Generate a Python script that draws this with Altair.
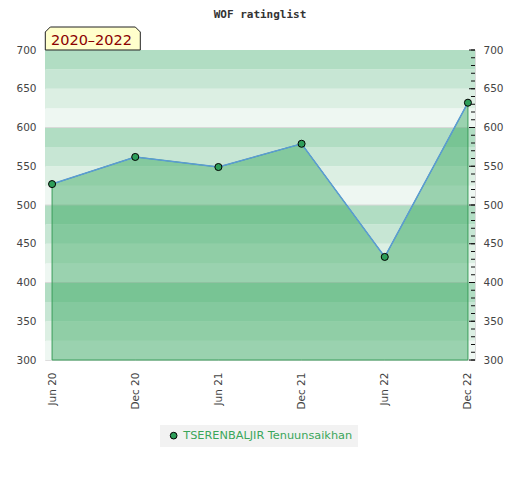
import altair as alt
import pandas as pd

# ---- data ----
dates = ["Jun 20", "Dec 20", "Jun 21", "Dec 21", "Jun 22", "Dec 22"]
ratings = [527, 562, 549, 579, 433, 632]
player = "TSERENBALJIR Tenuunsaikhan"
period = "2020–2022"
chart_title = "WOF ratinglist"
y_min, y_max = 300, 700
band_step = 25
band_colors = ["#b1ddc3", "#c7e6d4", "#dcefe3", "#eef7f2"]
label_ticks = list(range(300, 701, 50))
minor_ticks = list(range(300, 701, 10))
grid_lines = [400, 500, 600]

W, H = 430, 310

df = pd.DataFrame({"date": dates, "rating": ratings, "player": [player] * len(dates)})
lows = list(range(y_min, y_max, band_step))
bands = pd.DataFrame({
    "lo": lows,
    "hi": [v + band_step for v in lows],
    "shade": [band_colors[((y_max - (v + band_step)) // band_step) % 4] for v in lows],
})

yscale = alt.Scale(domain=[y_min, y_max], nice=False, zero=False)
xenc = alt.X(
    "date:N", sort=dates,
    scale=alt.Scale(type="point", padding=0.085),
    axis=alt.Axis(title=None, labelAngle=-90, labelFont="DejaVu Sans", labelFontSize=10.5,
                  labelColor="#444", ticks=False, tickSize=0, domain=False, grid=False,
                  labelPadding=12),
)

band_layer = alt.Chart(bands).mark_rect().encode(
    y=alt.Y("lo:Q", scale=yscale, axis=None),
    y2="hi:Q",
    x=alt.value(0), x2=alt.value(W),
    fill=alt.Fill("shade:N", scale=None, legend=None),
)

grid_layer = alt.Chart(pd.DataFrame({"v": grid_lines})).mark_rule(color="#d9d9d9", strokeWidth=1).encode(
    y=alt.Y("v:Q", scale=yscale, axis=None),
    x=alt.value(0), x2=alt.value(W),
)

area_layer = alt.Chart(df).mark_area(
    fill="#2fa559", fillOpacity=0.44, stroke="#3a9d5a", strokeWidth=1
).encode(
    x=xenc,
    y=alt.Y("rating:Q", scale=yscale,
            axis=alt.Axis(orient="left", values=label_ticks, ticks=False, tickSize=0, domain=False,
                          grid=False, labelPadding=9, labelFont="DejaVu Sans", labelFontSize=10.5,
                          labelColor="#444", title=None, labelFlush=False, labelOverlap=False)),
    y2=alt.datum(y_min),
)

line_layer = alt.Chart(df).mark_line(color="#5b9bd5", strokeWidth=1.5).encode(
    x=xenc,
    y=alt.Y("rating:Q", scale=yscale, axis=None),
)

point_layer = alt.Chart(df).mark_point(
    filled=True, size=50, stroke="black", strokeWidth=1, opacity=1
).encode(
    x=xenc,
    y=alt.Y("rating:Q", scale=yscale,
            axis=alt.Axis(orient="right", values=label_ticks, ticks=False, tickSize=0, domain=False,
                          grid=False, labelPadding=8, labelFont="DejaVu Sans", labelFontSize=10.5,
                          labelColor="#444", title=None, labelFlush=False, labelOverlap=False)),
    color=alt.Color("player:N", scale=alt.Scale(range=["#2e9e5a"]),
                    legend=alt.Legend(orient="none", legendX=115, legendY=375, title=None,
                                      fillColor="#f2f2f2", padding=5, labelColor="#3aa65a",
                                      labelFont="DejaVu Sans", labelFontSize=11.3, labelLimit=400,
                                      symbolType="circle",
                                      symbolSize=45, symbolStrokeColor="black", symbolStrokeWidth=1,
                                      symbolOffset=3, labelOffset=4)),
)

minor_layer = alt.Chart(pd.DataFrame({"v": minor_ticks})).mark_rule(color="#111", strokeWidth=1).encode(
    y=alt.Y("v:Q", scale=yscale, axis=None),
    x=alt.value(W - 4), x2=alt.value(W),
)
major_layer = alt.Chart(pd.DataFrame({"v": label_ticks})).mark_rule(color="#111", strokeWidth=1).encode(
    y=alt.Y("v:Q", scale=yscale, axis=None),
    x=alt.value(W - 6), x2=alt.value(W),
)

box_path = "M-1,0.242L-1,-0.137L-0.895,-0.242L0.895,-0.242L1,-0.137L1,0.242Z"
period_df = pd.DataFrame({"t": [period]})
box_layer = alt.Chart(period_df).mark_point(
    shape=box_path, size=9025, filled=True, fill="#ffffcc", stroke="#222", strokeWidth=1, opacity=1
).encode(x=alt.value(47.8), y=alt.value(-11.5))
text_layer = alt.Chart(period_df).mark_text(
    color="#8b0000", fontSize=14.5, font="DejaVu Sans", align="center", baseline="alphabetic"
).encode(x=alt.value(46.5), y=alt.value(-4.8), text="t:N")

chart = alt.layer(
    band_layer, grid_layer, area_layer, line_layer, point_layer,
    minor_layer, major_layer, box_layer, text_layer,
).resolve_axis(y="independent").properties(
    width=W, height=H,
    title=alt.TitleParams(text=chart_title, font="DejaVu Sans Mono", fontSize=11, fontWeight="bold",
                          color="#333", anchor="middle", offset=5),
    autosize=alt.AutoSizeParams(type="none"),
    padding={"left": 37, "top": 42, "right": 37, "bottom": 100},
).configure_view(stroke="#d6d6d6", strokeWidth=1).configure(background="white")

chart.save("out.html", embed_options={"renderer": "svg", "actions": False})
